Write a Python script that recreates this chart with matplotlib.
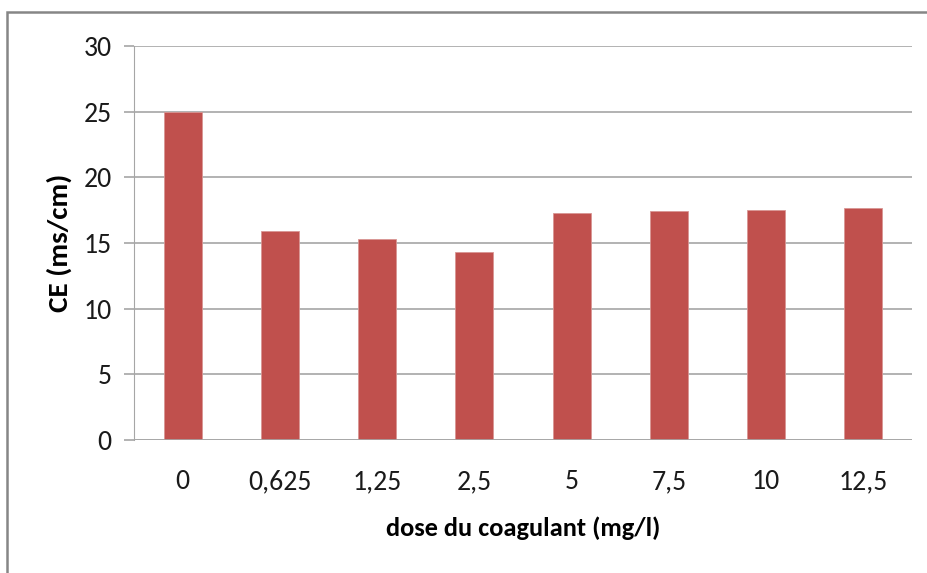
import matplotlib.pyplot as plt
from matplotlib.patches import Rectangle

# data
doses = ['0', '0,625', '1,25', '2,5', '5', '7,5', '10', '12,5']
ce = [25.0, 15.95, 15.3, 14.3, 17.25, 17.4, 17.5, 17.7]

bar_col = '#c0504d'
grid_col = '#a6a6a6'

plt.rcParams['font.family'] = ['Carlito', 'Open Sans', 'DejaVu Sans']

fig = plt.figure(figsize=(9.28, 5.73), dpi=100)
ax = fig.add_axes([0.1444, 0.2321, 0.8384, 0.6876])

x = range(len(doses))
ax.bar(x, ce, width=0.39, color=bar_col, edgecolor='#d99694',
       linewidth=0.6, zorder=3)

ax.set_ylim(0, 30)
ax.set_xlim(-0.5, len(doses) - 0.5)
ax.set_yticks(range(0, 31, 5))
ax.set_xticks(list(x))
ax.set_xticklabels(doses)
ax.yaxis.grid(True, color=grid_col, linewidth=1.2, zorder=0)

for s in ('top', 'right', 'bottom'):
    ax.spines[s].set_visible(False)
ax.spines['left'].set_color(grid_col)
ax.axhline(0, color=grid_col, linewidth=1.2, zorder=4)

ax.tick_params(axis='y', length=7.2, width=1.2, color=grid_col,
               labelsize=20, pad=9, labelcolor='#1a1a1a')
ax.tick_params(axis='x', length=0, labelsize=20, pad=21,
               labelcolor='#1a1a1a')

ax.set_xlabel('dose du coagulant (mg/l)', fontsize=19, fontweight='bold',
              labelpad=16)
ax.set_ylabel('CE (ms/cm)', fontsize=21, fontweight='bold', labelpad=8)

# outer chart frame
fig.patches.append(Rectangle((7 / 928, -0.1), 1.2, 1 - 12 / 573 + 0.1,
                             transform=fig.transFigure, fill=False,
                             edgecolor='#868686', linewidth=1.8))

fig.savefig('out.png', dpi=100)
